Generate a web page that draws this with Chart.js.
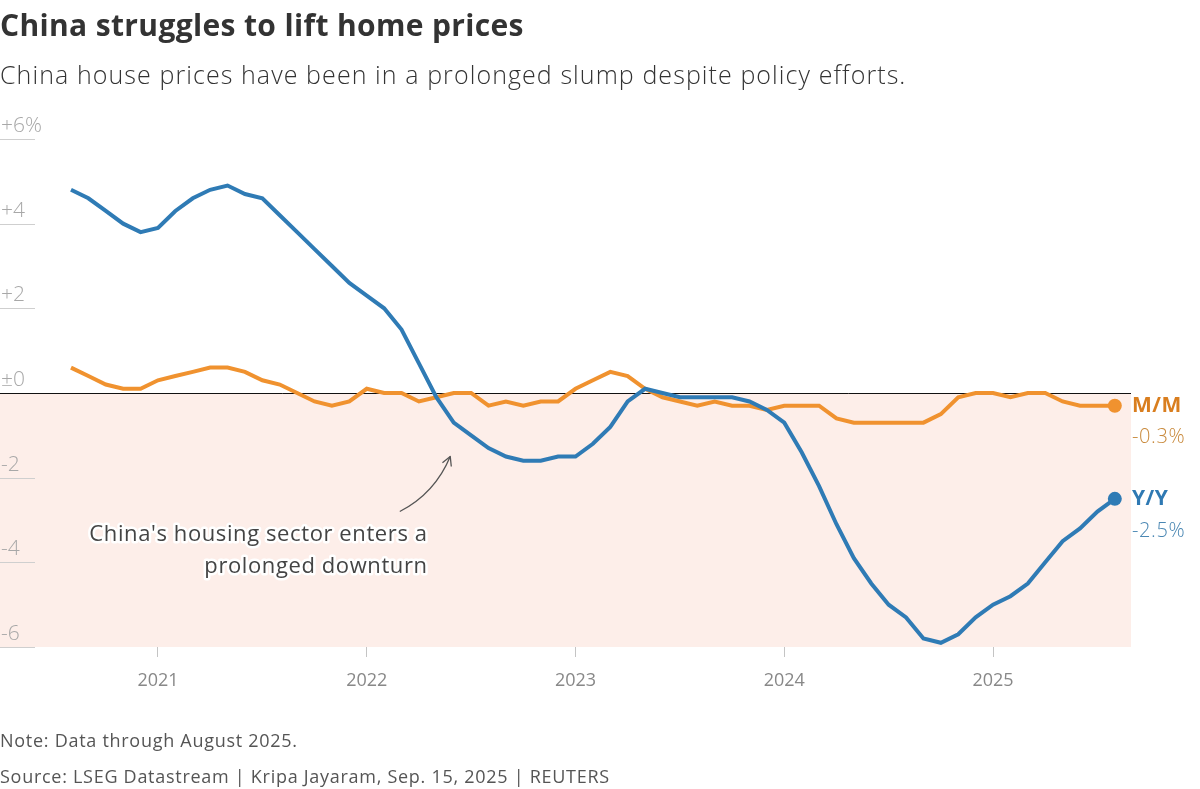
<!doctype html>
<html lang="en">
<head>
  <meta charset="utf-8">
  <title>China struggles to lift home prices</title>
  <style>
    body { margin: 0; background: #fff; font-family: "Open Sans", sans-serif; }
    #wrap { position: relative; width: 1200px; height: 789px; overflow: hidden; }
    #chart { position: absolute; left: 0; top: 0; }
    .title { position: absolute; left: 0; top: 4px; font-size: 30px; font-weight: 700; color: #333; letter-spacing: 0.35px; }
    .sub { position: absolute; left: 0; top: 57px; font-size: 25px; font-weight: 300; color: #333; letter-spacing: 1.08px; }
    .note { position: absolute; left: 0; top: 728px; font-size: 18px; color: #555; letter-spacing: 0.72px; }
    .src { position: absolute; left: 0; top: 764px; font-size: 18px; color: #555; letter-spacing: 0.72px; }
  </style>
</head>
<body>
  <div id="wrap">
    <canvas id="chart" width="1200" height="789"></canvas>
    <div class="title">China struggles to lift home prices</div>
    <div class="sub">China house prices have been in a prolonged slump despite policy efforts.</div>
    <div class="note">Note: Data through August 2025.</div>
    <div class="src">Source: LSEG Datastream | Kripa Jayaram, Sep. 15, 2025 | REUTERS</div>
  </div>

  <script src="https://cdn.jsdelivr.net/npm/chart.js@4.4.1/dist/chart.umd.min.js"></script>
  <script>
  // monthly, Aug 2020 .. Aug 2025 (index 0 = Aug 2020)
  const yoy = [4.8, 4.6, 4.3, 4.0, 3.8, 3.9, 4.3, 4.6, 4.8, 4.9, 4.7, 4.6,
               4.2, 3.8, 3.4, 3.0, 2.6, 2.3, 2.0, 1.5, 0.7, -0.1, -0.7, -1.0,
               -1.3, -1.5, -1.6, -1.6, -1.5, -1.5, -1.2, -0.8, -0.2, 0.1, 0.0, -0.1,
               -0.1, -0.1, -0.1, -0.2, -0.4, -0.7, -1.4, -2.2, -3.1, -3.9, -4.5, -5.0,
               -5.3, -5.8, -5.9, -5.7, -5.3, -5.0, -4.8, -4.5, -4.0, -3.5, -3.2, -2.8, -2.5];
  const mom = [0.6, 0.4, 0.2, 0.1, 0.1, 0.3, 0.4, 0.5, 0.6, 0.6, 0.5, 0.3,
               0.2, 0.0, -0.2, -0.3, -0.2, 0.1, 0.0, 0.0, -0.2, -0.1, 0.0, 0.0,
               -0.3, -0.2, -0.3, -0.2, -0.2, 0.1, 0.3, 0.5, 0.4, 0.1, -0.1, -0.2,
               -0.3, -0.2, -0.3, -0.3, -0.4, -0.3, -0.3, -0.3, -0.6, -0.7, -0.7, -0.7,
               -0.7, -0.7, -0.5, -0.1, 0.0, 0.0, -0.1, 0.0, 0.0, -0.2, -0.3, -0.3, -0.3];
  const janIdx = [5, 17, 29, 41, 53];
  const yearLabels = ['2021', '2022', '2023', '2024', '2025'];
  const yTicks = [6, 4, 2, 0, -2, -4, -6];
  const yTickLabels = ['+6%', '+4', '+2', '±0', '-2', '-4', '-6'];

  const BLUE = '#2f7bb5';
  const ORANGE = '#f0922f';

  function toPoints(arr) {
    return arr.map((v, i) => ({ x: i, y: v }));
  }

  const decor = {
    id: 'decor',
    beforeDatasetsDraw(chart) {
      const ctx = chart.ctx;
      const a = chart.chartArea;
      const y = chart.scales.y;
      const x = chart.scales.x;
      const y0 = y.getPixelForValue(0);
      ctx.save();
      ctx.fillStyle = '#fdeee9';
      ctx.fillRect(a.left, y0, a.right - a.left, a.bottom - y0);

      // y ticks: short lines with labels above
      ctx.font = '300 21px "Open Sans"';
      ctx.textBaseline = 'bottom';
      ctx.textAlign = 'left';
      yTicks.forEach((t, k) => {
        const py = Math.round(y.getPixelForValue(t)) + 0.5;
        if (t !== 0) {
          ctx.strokeStyle = '#cfcfcf';
          ctx.lineWidth = 1;
          ctx.beginPath();
          ctx.moveTo(0, py);
          ctx.lineTo(35, py);
          ctx.stroke();
        }
        ctx.fillStyle = '#a8a8a8';
        ctx.fillText(yTickLabels[k], 1, py - 3);
      });

      ctx.strokeStyle = '#111';
      ctx.lineWidth = 1;
      ctx.beginPath();
      ctx.moveTo(0, Math.round(y0) + 0.5);
      ctx.lineTo(a.right, Math.round(y0) + 0.5);
      ctx.stroke();

      // annotation
      const tx = x.getPixelForValue(20.5);
      const ty = y.getPixelForValue(-3.35);
      ctx.font = '22px "Open Sans"';
      ctx.letterSpacing = '0.6px';
      ctx.textAlign = 'right';
      ctx.textBaseline = 'middle';
      ctx.lineJoin = 'round';
      ['China\'s housing sector enters a', 'prolonged downturn'].forEach((s, k) => {
        ctx.strokeStyle = '#fff';
        ctx.lineWidth = 5;
        ctx.strokeText(s, tx, ty + k * 32);
        ctx.fillStyle = '#444';
        ctx.fillText(s, tx, ty + k * 32);
      });
      ctx.letterSpacing = '0px';
      const ax0 = x.getPixelForValue(18.9), ay0 = y.getPixelForValue(-2.8);
      const ax1 = x.getPixelForValue(21.8), ay1 = y.getPixelForValue(-1.5);
      const cx = ax0 + 35, cy = ay0 - 18;
      ctx.strokeStyle = '#555';
      ctx.lineWidth = 1.3;
      ctx.beginPath();
      ctx.moveTo(ax0, ay0);
      ctx.quadraticCurveTo(cx, cy, ax1, ay1);
      ctx.stroke();
      const ang = Math.atan2(ay1 - cy, ax1 - cx);
      ctx.beginPath();
      ctx.moveTo(ax1 - 10 * Math.cos(ang - 0.5), ay1 - 10 * Math.sin(ang - 0.5));
      ctx.lineTo(ax1, ay1);
      ctx.lineTo(ax1 - 10 * Math.cos(ang + 0.5), ay1 - 10 * Math.sin(ang + 0.5));
      ctx.stroke();
      ctx.restore();
    },
    afterDatasetsDraw(chart) {
      const ctx = chart.ctx;
      const a = chart.chartArea;
      ctx.save();
      ctx.textAlign = 'left';
      ctx.textBaseline = 'middle';
      const lx = a.right + 1;
      const mPt = chart.getDatasetMeta(1).data[mom.length - 1];
      const yPt = chart.getDatasetMeta(0).data[yoy.length - 1];
      ctx.font = 'bold 21px "Open Sans"';
      ctx.letterSpacing = '0.5px';
      ctx.fillStyle = '#d97e1f';
      ctx.fillText('M/M', lx, mPt.y);
      ctx.fillStyle = '#2f79b3';
      ctx.fillText('Y/Y', lx, yPt.y);
      ctx.font = '300 20px "Open Sans"';
      ctx.letterSpacing = '0.6px';
      ctx.fillStyle = '#c98a3c';
      ctx.fillText(mom[mom.length - 1].toFixed(1) + '%', lx, mPt.y + 32);
      ctx.fillStyle = '#4a87b3';
      ctx.fillText(yoy[yoy.length - 1].toFixed(1) + '%', lx, yPt.y + 32);
      ctx.restore();
    }
  };

  const endDot = (n) => (c) => c.dataIndex === n - 1 ? 7 : 0;

  new Chart(document.getElementById('chart'), {
    type: 'line',
    data: {
      datasets: [
        {
          label: 'Y/Y',
          data: toPoints(yoy),
          borderColor: BLUE,
          backgroundColor: BLUE,
          borderWidth: 4,
          pointRadius: endDot(yoy.length),
          pointBorderWidth: 0,
          tension: 0,
        },
        {
          label: 'M/M',
          data: toPoints(mom),
          borderColor: ORANGE,
          backgroundColor: ORANGE,
          borderWidth: 4,
          pointRadius: endDot(mom.length),
          pointBorderWidth: 0,
          tension: 0,
        },
      ]
    },
    options: {
      responsive: false,
      devicePixelRatio: 1,
      animation: false,
      events: [],
      layout: { autoPadding: false, padding: { left: 0, right: 69, top: 139, bottom: 82 } },
      plugins: { legend: { display: false }, tooltip: { enabled: false } },
      scales: {
        x: {
          type: 'linear',
          min: -4.08,
          max: 60.93,
          afterBuildTicks: s => { s.ticks = janIdx.map(v => ({ value: v })); },
          afterFit: s => { s.height = 60; s.paddingLeft = 0; s.paddingRight = 0; },
          grid: { drawOnChartArea: false, tickLength: 10, color: '#c4c4c4', lineWidth: 1 },
          border: { display: false },
          ticks: {
            padding: 13,
            color: '#888',
            font: { family: 'Open Sans', size: 18 },
            callback: v => yearLabels[janIdx.indexOf(v)],
          },
        },
        y: {
          display: false,
          min: -6,
          max: 6,
        },
      },
    },
    plugins: [decor],
  });
  </script>
</body>
</html>
